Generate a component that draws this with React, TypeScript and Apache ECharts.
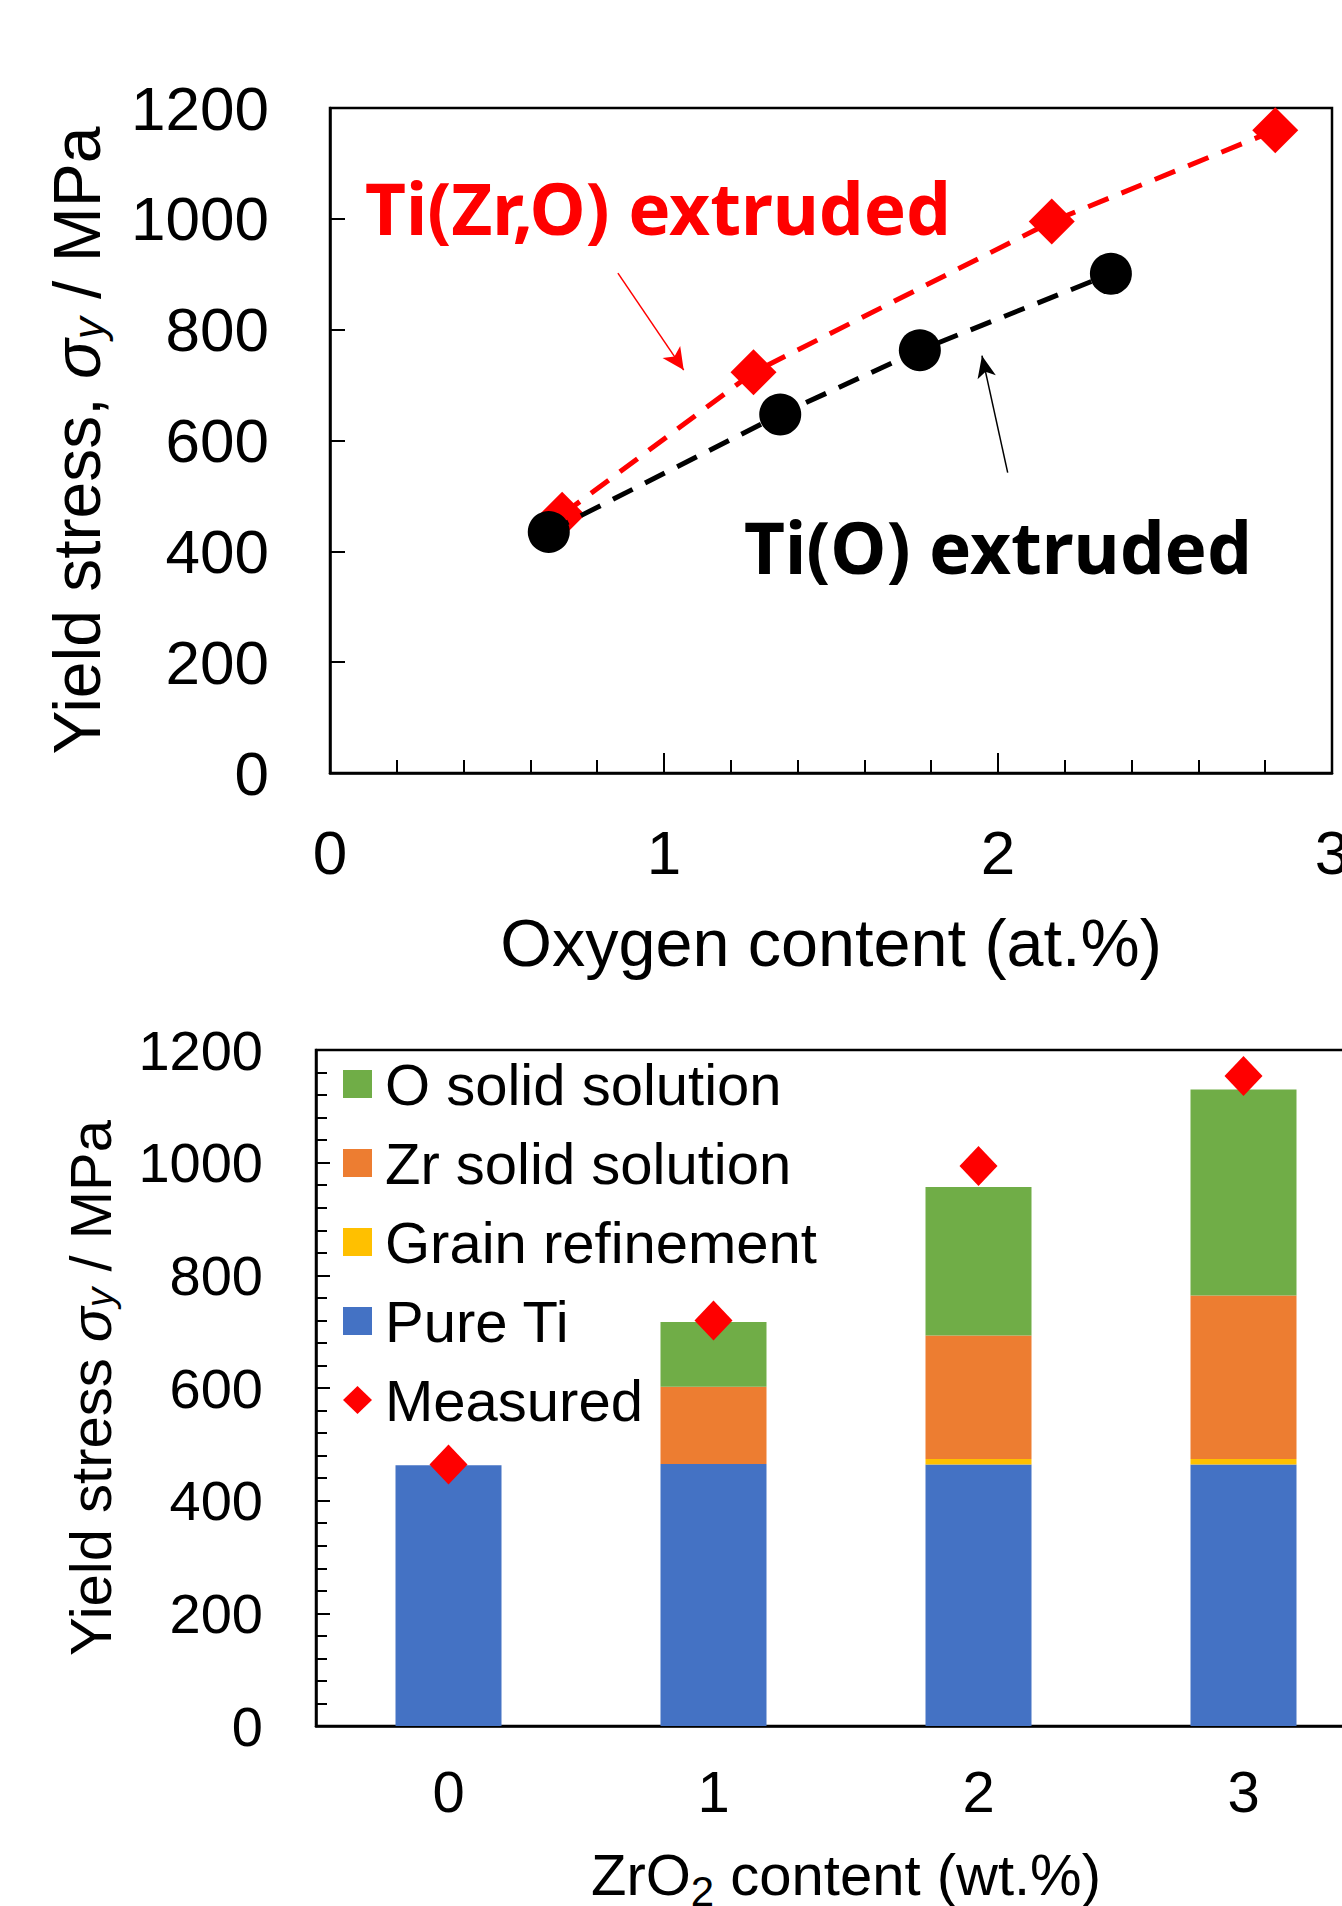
import React, { useEffect, useRef } from "react";
import * as echarts from "echarts";

// ---------- Top panel: yield stress vs oxygen content ----------
const oxygenTiO = [0.655, 1.348, 1.766, 2.338];
const stressTiO = [435, 647, 763, 901];
const oxygenTiZrO = [0.695, 1.268, 2.161, 2.83];
const stressTiZrO = [466, 723, 995, 1160];

// ---------- Bottom panel: strengthening contributions ----------
const zrO2Categories = ["0", "1", "2", "3"];
const pureTi = [463, 465, 464, 464];
const grainRefinement = [0, 0, 10, 10];
const zrSolidSolution = [0, 137, 219, 290];
const oSolidSolution = [0, 115, 264, 366];
const measured = [464, 720, 994, 1154];

const seriesNames = ["O solid solution", "Zr solid solution", "Grain refinement", "Pure Ti", "Measured"];

const FONT = "'Liberation Sans', Arial, sans-serif";
const BOLD_FONT = "'Noto Sans', 'Open Sans', sans-serif";

const GREEN = "#70AD47";
const ORANGE = "#ED7D31";
const YELLOW = "#FFC000";
const BLUE = "#4472C4";
const RED = "#FF0000";

const plain = (v: number) => String(v);

export default function App() {
  const ref = useRef<HTMLDivElement>(null);

  useEffect(() => {
    if (!ref.current) return;
    const chart = echarts.init(ref.current, undefined, { renderer: "svg" });

    const pairs = (xs: number[], ys: number[]) => xs.map((x, i) => [x, ys[i]]);

    const option: any = {
      animation: false,
      backgroundColor: "#ffffff",
      grid: [
        {
          left: 330, top: 108, width: 1002, height: 665,
          show: true, borderColor: "#000", borderWidth: 2.5,
          outerBoundsMode: "none", containLabel: false,
        },
        {
          left: 316, top: 1050, width: 1060, height: 676,
          show: true, borderColor: "#000", borderWidth: 2.5,
          outerBoundsMode: "none", containLabel: false,
        },
      ],
      xAxis: [
        {
          gridIndex: 0,
          type: "value",
          min: 0,
          max: 3,
          interval: 1,
          axisLine: { show: true, onZero: false, lineStyle: { color: "#000", width: 2.5 } },
          axisTick: { show: true, inside: true, length: 20, lineStyle: { color: "#000", width: 2 } },
          minorTick: { show: true, splitNumber: 5, length: 13, lineStyle: { color: "#000", width: 2 } },
          splitLine: { show: false },
          axisLabel: { fontSize: 62, color: "#000", fontFamily: FONT, margin: 48, formatter: plain },
          name: "Oxygen content (at.%)",
          nameLocation: "middle",
          nameGap: 136,
          nameTextStyle: { fontSize: 66.5, color: "#000", fontFamily: FONT },
        },
        {
          gridIndex: 1,
          type: "category",
          data: zrO2Categories,
          axisLine: { show: true, onZero: false, lineStyle: { color: "#000", width: 2.5 } },
          axisTick: { show: false },
          splitLine: { show: false },
          axisLabel: { fontSize: 58, color: "#000", fontFamily: FONT, margin: 36 },
          name: "ZrO{sub|2} content (wt.%)",
          nameLocation: "middle",
          nameGap: 110,
          nameTextStyle: {
            fontSize: 58,
            color: "#000",
            fontFamily: FONT,
            rich: {
              sub: { fontSize: 42, lineHeight: 76, fontFamily: FONT, color: "#000", verticalAlign: "bottom" },
            },
          },
        },
      ],
      yAxis: [
        {
          gridIndex: 0,
          type: "value",
          min: 0,
          max: 1200,
          interval: 200,
          axisLine: { show: true, onZero: false, lineStyle: { color: "#000", width: 2.5 } },
          axisTick: { show: true, inside: true, length: 15, lineStyle: { color: "#000", width: 2 } },
          splitLine: { show: false },
          axisLabel: { fontSize: 62, color: "#000", fontFamily: FONT, margin: 61, formatter: plain },
          name: "Yield stress, {i|σ}{sub|y} / MPa",
          nameLocation: "middle",
          nameRotate: 90,
          nameGap: 220,
          nameTextStyle: {
            fontSize: 66,
            color: "#000",
            fontFamily: FONT,
            rich: {
              i: { fontSize: 66, fontStyle: "italic", fontFamily: FONT, color: "#000" },
              sub: { fontSize: 44, fontStyle: "italic", fontFamily: FONT, color: "#000", verticalAlign: "bottom" },
            },
          },
        },
        {
          gridIndex: 1,
          type: "value",
          min: 0,
          max: 1200,
          interval: 200,
          axisLine: { show: true, onZero: false, lineStyle: { color: "#000", width: 2.5 } },
          axisTick: { show: true, inside: true, length: 14, lineStyle: { color: "#000", width: 2 } },
          minorTick: { show: true, splitNumber: 5, length: 11, lineStyle: { color: "#000", width: 2 } },
          splitLine: { show: false },
          axisLabel: { fontSize: 56, color: "#000", fontFamily: FONT, margin: 53, formatter: plain },
          name: "Yield stress {i|σ}{sub|y} / MPa",
          nameLocation: "middle",
          nameRotate: 90,
          nameGap: 197,
          nameTextStyle: {
            fontSize: 58,
            color: "#000",
            fontFamily: FONT,
            rich: {
              i: { fontSize: 58, fontStyle: "italic", fontFamily: FONT, color: "#000" },
              sub: { fontSize: 39, fontStyle: "italic", fontFamily: FONT, color: "#000", verticalAlign: "bottom" },
            },
          },
        },
      ],
      legend: {
        orient: "vertical",
        left: 343,
        top: 1055,
        padding: 0,
        itemWidth: 29,
        itemHeight: 28,
        itemGap: 21,
        data: [
          { name: seriesNames[0], icon: "rect" },
          { name: seriesNames[1], icon: "rect" },
          { name: seriesNames[2], icon: "rect" },
          { name: seriesNames[3], icon: "rect" },
          { name: seriesNames[4], icon: "diamond" },
        ],
        textStyle: { fontSize: 58, lineHeight: 58, color: "#000", fontFamily: FONT, padding: [0, 0, 0, 8] },
      },
      graphic: [
        {
          type: "text",
          x: 365,
          y: 207,
          style: {
            text: "Ti(Zr,O) extruded",
            fill: RED,
            fontSize: 71,
            fontWeight: "bold",
            fontFamily: BOLD_FONT,
            verticalAlign: "middle",
            textVerticalAlign: "middle",
          },
        },
        {
          type: "text",
          x: 744,
          y: 546,
          style: {
            text: "Ti(O) extruded",
            fill: "#000",
            fontSize: 71,
            fontWeight: "bold",
            fontFamily: BOLD_FONT,
            verticalAlign: "middle",
            textVerticalAlign: "middle",
          },
        },
      ],
      series: [
        {
          name: "Ti(Zr,O) extruded",
          type: "line",
          xAxisIndex: 0,
          yAxisIndex: 0,
          data: pairs(oxygenTiZrO, stressTiZrO),
          symbol: "diamond",
          symbolSize: 46,
          itemStyle: { color: RED, opacity: 1 },
          lineStyle: { color: RED, width: 5, type: [22, 14] },
          z: 3,
          markLine: {
            silent: true,
            symbol: ["none", "arrow"],
            symbolSize: [16, 22],
            label: { show: false },
            lineStyle: { color: RED, width: 1.5, type: "solid" },
            data: [[{ coord: [0.862, 902] }, { coord: [1.059, 727] }]],
          },
        },
        {
          name: "Ti(O) extruded",
          type: "line",
          xAxisIndex: 0,
          yAxisIndex: 0,
          data: pairs(oxygenTiO, stressTiO),
          symbol: "circle",
          symbolSize: 42,
          itemStyle: { color: "#000", opacity: 1 },
          lineStyle: { color: "#000", width: 5, type: [22, 14] },
          z: 4,
          markLine: {
            silent: true,
            symbol: ["none", "arrow"],
            symbolSize: [14, 22],
            label: { show: false },
            lineStyle: { color: "#000", width: 1.5, type: "solid" },
            data: [[{ coord: [2.029, 542] }, { coord: [1.952, 753] }]],
          },
        },
        {
          name: seriesNames[3],
          type: "bar",
          xAxisIndex: 1,
          yAxisIndex: 1,
          stack: "total",
          barWidth: "40%",
          data: pureTi,
          itemStyle: { color: BLUE },
        },
        {
          name: seriesNames[2],
          type: "bar",
          xAxisIndex: 1,
          yAxisIndex: 1,
          stack: "total",
          barWidth: "40%",
          data: grainRefinement,
          itemStyle: { color: YELLOW },
        },
        {
          name: seriesNames[1],
          type: "bar",
          xAxisIndex: 1,
          yAxisIndex: 1,
          stack: "total",
          barWidth: "40%",
          data: zrSolidSolution,
          itemStyle: { color: ORANGE },
        },
        {
          name: seriesNames[0],
          type: "bar",
          xAxisIndex: 1,
          yAxisIndex: 1,
          stack: "total",
          barWidth: "40%",
          data: oSolidSolution,
          itemStyle: { color: GREEN },
        },
        {
          name: seriesNames[4],
          type: "scatter",
          xAxisIndex: 1,
          yAxisIndex: 1,
          data: measured,
          symbol: "diamond",
          symbolSize: [38, 40],
          itemStyle: { color: RED, opacity: 1 },
          z: 5,
        },
      ],
    };

    chart.setOption(option);
    return () => chart.dispose();
  }, []);

  return (
    <div
      ref={ref}
      style={{ position: "absolute", left: 0, top: 0, width: 1342, height: 1906, background: "#fff" }}
    />
  );
}
